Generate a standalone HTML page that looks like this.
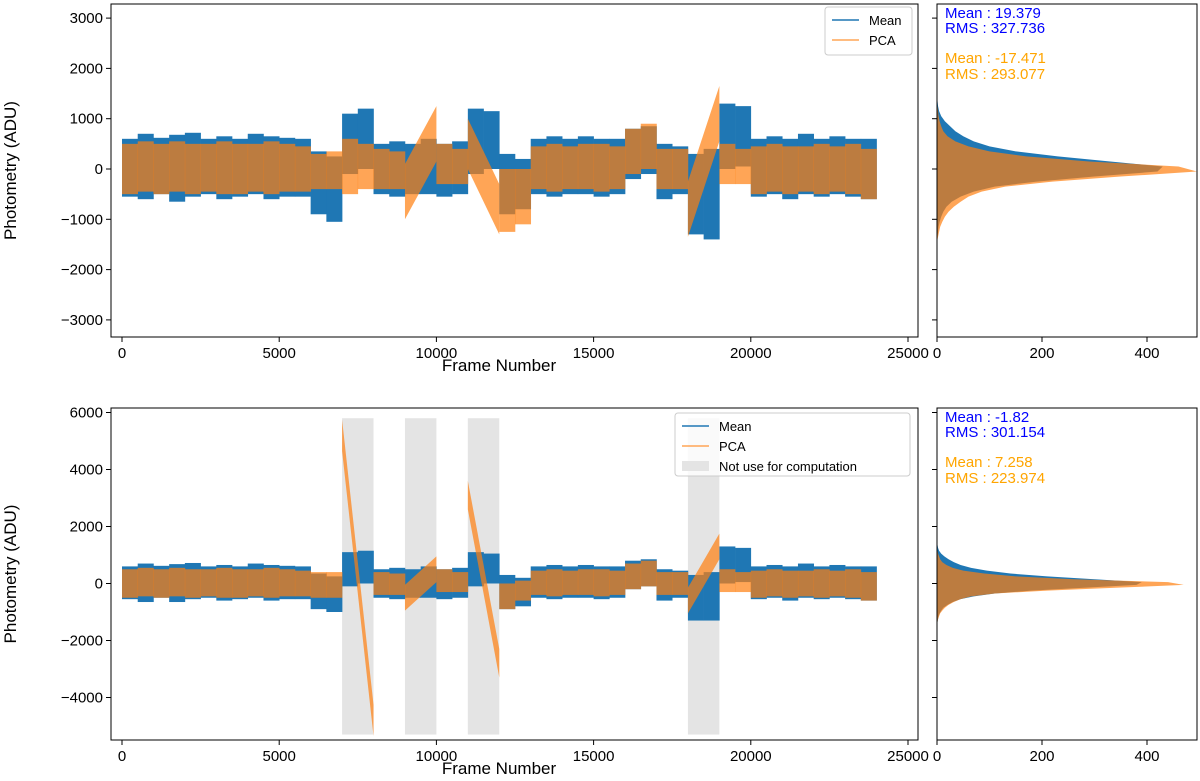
<!DOCTYPE html>
<html><head><meta charset="utf-8"><style>
body{margin:0;background:#fff;}
svg{display:block;font-family:"Liberation Sans","DejaVu Sans",sans-serif;}
</style></head><body>
<svg id="c" width="1200" height="781" viewBox="0 0 1200 781"></svg>
<script>
// ---- data (bins of 500 frames, 0..24000) ----
const frameBinStart = Array.from({length:48},(_,i)=>i*500);
const meanTopHi=[600,700,620,680,720,600,650,600,700,650,620,600,350,250,1100,1200,500,550,500,600,500,550,1200,1150,300,200,600,650,600,650,600,600,800,850,500,450,300,400,1300,1250,600,650,600,700,600,650,600,600];
const meanTopLo=[-550,-600,-500,-650,-550,-500,-600,-550,-500,-600,-550,-550,-900,-1050,-100,0,-500,-550,-500,-500,-550,-500,-100,0,-900,-800,-500,-550,-500,-500,-550,-500,-200,-100,-600,-500,-1300,-1400,0,50,-550,-500,-600,-500,-550,-500,-550,-600];
const pcaTopHi=[500,550,500,550,500,500,550,500,500,550,500,450,300,350,600,500,400,350,0,0,500,400,0,0,0,0,450,500,450,500,500,450,800,900,400,400,0,0,500,400,450,500,450,450,500,450,500,400];
const pcaTopLo=[-500,-450,-500,-450,-500,-450,-500,-500,-450,-500,-450,-450,-400,-400,-500,-400,-400,-400,0,0,-300,-300,0,0,-1250,-1100,-400,-450,-400,-400,-450,-400,-100,0,-400,-400,0,0,-300,-300,-500,-450,-500,-450,-500,-450,-500,-600];
const rampTopStart=[9000,11000,18000];
const rampTopEnd=[10000,12000,19000];
const rampTopFrom=[-450,500,-800];
const rampTopTo=[700,-800,1100];
const rampTopHalf=[550,500,550];
const meanBotHi=[600,700,620,680,720,600,650,600,700,650,620,600,350,250,1100,1150,500,550,500,600,500,550,1100,1050,300,200,600,650,600,650,600,600,800,850,500,450,300,400,1300,1250,600,650,600,700,600,650,600,600];
const meanBotLo=[-550,-650,-500,-650,-550,-500,-600,-550,-500,-600,-550,-550,-900,-1000,-100,0,-500,-550,-500,-500,-550,-500,-100,0,-900,-800,-500,-550,-500,-500,-550,-500,-200,-100,-600,-500,-1300,-1300,0,50,-550,-500,-600,-500,-550,-500,-550,-600];
const pcaBotHi=[500,550,500,550,500,500,550,500,500,550,500,450,400,400,0,0,400,350,0,0,500,400,0,0,0,100,450,500,450,500,500,450,700,800,400,400,0,0,500,400,450,500,450,450,500,450,500,400];
const pcaBotLo=[-500,-450,-500,-450,-500,-450,-500,-500,-450,-500,-450,-450,-500,-500,0,0,-400,-400,0,0,-300,-300,0,0,-900,-600,-400,-450,-400,-400,-450,-400,-200,-100,-400,-400,0,0,-300,-300,-500,-450,-500,-450,-500,-450,-500,-600];
const rampBotStart=[7000,9000,11000,18000];
const rampBotEnd=[8000,10000,12000,19000];
const rampBotFrom=[5200,-500,3100,-600];
const rampBotTo=[-4800,500,-2800,1300];
const rampBotHalf=[550,450,500,450];
const excludedStart=[7000,9000,11000,18000];
const excludedEnd=[8000,10000,12000,19000];
// histograms: bins of 100 ADU, centers -1450..1450
const histCenters=Array.from({length:30},(_,i)=>-1450+i*100);
const histMeanTop=[0,1,2,3,5,8,12,18,28,45,70,110,190,300,420,430,330,230,150,100,70,50,35,25,15,8,4,2,1,0];
const histPcaTop=[0,2,4,6,10,15,22,32,45,60,85,130,220,350,495,460,290,170,100,60,35,20,12,8,5,3,2,1,0,0];
const histMeanBot=[0,1,2,3,5,8,12,20,30,45,70,110,180,280,380,390,300,210,140,95,65,45,32,22,14,8,4,2,1,0];
const histPcaBot=[0,1,2,4,6,10,15,22,32,45,65,110,210,340,470,440,260,150,90,50,30,18,10,6,4,2,1,0,0,0];
const xTicks=[0,5000,10000,15000,20000,25000];
const yTicksTop=[-3000,-2000,-1000,0,1000,2000,3000];
const yTicksBot=[-4000,-2000,0,2000,4000,6000];
const histTicks=[0,200,400];

const NS="http://www.w3.org/2000/svg";
const svg=document.getElementById('c');
function mk(tag,attrs,parent){const e=document.createElementNS(NS,tag);for(const k in attrs)e.setAttribute(k,attrs[k]);(parent||svg).appendChild(e);return e;}
function fmt(v){return v<0?'\u2212'+(-v):String(v);}
const BLUE='#1f77b4',ORANGE='#ff7f0e';
const xMain=v=>122+v*(786/25000);
const xHist=v=>937+v*0.525;

function panel(p){
  const g=mk('g',{});
  
  
  const y=p.y;
  const clipId='clip'+p.name;
  const cp=mk('clipPath',{id:clipId},g);mk('rect',{x:111,y:p.top,width:807,height:p.bot-p.top},cp);
  const plot=mk('g',{'clip-path':'url(#'+clipId+')'},g);
  if(p.excl){for(let i=0;i<excludedStart.length;i++){
    const r=mk('rect',{x:xMain(excludedStart[i]),y:y(5800),width:xMain(excludedEnd[i])-xMain(excludedStart[i]),height:y(-5300)-y(5800),fill:'#e4e4e4'},plot);
    
    
  }}
  function band(hi,lo,color,op,nm){
    const gg=mk('g',{fill:color,'fill-opacity':op},plot);
    
    
    for(let i=0;i<hi.length;i++){
      if(hi[i]===lo[i])continue;
      const r=mk('rect',{x:xMain(frameBinStart[i]),y:y(hi[i]),width:xMain(frameBinStart[i]+500)-xMain(frameBinStart[i])+0.3,height:y(lo[i])-y(hi[i])},gg);
      
      
    }
    return gg;
  }
  band(p.mHi,p.mLo,BLUE,1,'mean-series');
  const pg=band(p.pHi,p.pLo,ORANGE,0.7,'pca-series');
  for(let i=0;i<p.rs.length;i++){
    const x0=xMain(p.rs[i]),x1=xMain(p.re[i]);
    const pts=[x0+','+y(p.rf[i]+p.rh[i]),x1+','+y(p.rt[i]+p.rh[i]),x1+','+y(p.rt[i]-p.rh[i]),x0+','+y(p.rf[i]-p.rh[i])];
    const e=mk('polygon',{points:pts.join(' ')},pg);
    
    
  }
  mk('rect',{x:111,y:p.top,width:807,height:p.bot-p.top,fill:'none',stroke:'#000','stroke-width':1},g);
  for(const t of xTicks){const X=xMain(t);mk('line',{x1:X,x2:X,y1:p.bot,y2:p.bot+5,stroke:'#000'},g);
    const tx=mk('text',{x:X,y:p.bot+21,'font-size':15,'text-anchor':'middle'},g);tx.textContent=t;
    }
  for(const t of p.yt){const Y=y(t);mk('line',{x1:106,x2:111,y1:Y,y2:Y,stroke:'#000'},g);
    const tx=mk('text',{x:103,y:Y+5,'font-size':15,'text-anchor':'end'},g);tx.textContent=fmt(t);
    
    mk('line',{x1:932,x2:937,y1:Y,y2:Y,stroke:'#000'},g);}
  const xl=mk('text',{x:499,y:p.bot+34,'font-size':17,'text-anchor':'middle'},g);xl.textContent='Frame Number';
  
  const cy=(p.top+p.bot)/2;
  const yl=mk('text',{x:16,y:cy,'font-size':17,'text-anchor':'middle',transform:'rotate(-90 16 '+cy+')'},g);yl.textContent='Photometry (ADU)';
  
  // histogram
  const hc='hclip'+p.name;const hcp=mk('clipPath',{id:hc},g);mk('rect',{x:937,y:p.top,width:260,height:p.bot-p.top},hcp);
  const hg=mk('g',{'clip-path':'url(#'+hc+')'},g);
  function hist(c,color,op,nm){
    let pts=[xHist(0)+','+y(histCenters[0]-50)];
    for(let i=0;i<c.length;i++){pts.push(xHist(c[i])+','+y(histCenters[i]));}
    pts.push(xHist(0)+','+y(histCenters[c.length-1]+50));
    const e=mk('polygon',{points:pts.join(' '),fill:color,'fill-opacity':op},hg);
    
  }
  hist(p.hm,BLUE,1,'mean-histogram');hist(p.hp,ORANGE,0.7,'pca-histogram');
  mk('rect',{x:937,y:p.top,width:260,height:p.bot-p.top,fill:'none',stroke:'#000'},g);
  for(const t of histTicks){const X=xHist(t);mk('line',{x1:X,x2:X,y1:p.bot,y2:p.bot+5,stroke:'#000'},g);
    const tx=mk('text',{x:X,y:p.bot+21,'font-size':15,'text-anchor':'middle'},g);tx.textContent=t;
    }
  const st=[[p.s[0],'blue',p.top+14],[p.s[1],'blue',p.top+29],[p.s[2],'#ffa500',p.top+59],[p.s[3],'#ffa500',p.top+75]];
  for(const s of st){const tx=mk('text',{x:945,y:s[2],'font-size':15,fill:s[1]},g);tx.textContent=s[0];
    }
  // legend
  const L=p.leg;const lg=mk('g',{},g);
  
  mk('rect',{x:L.x,y:L.y,width:L.w,height:L.h,rx:3,fill:'#fff','fill-opacity':0.8,stroke:'#ccc'},lg);
  const items=[['Mean',BLUE,'line'],['PCA','#ffa556','line']];if(p.excl)items.push(['Not use for computation','#e4e4e4','box']);
  items.forEach((it,i)=>{const yy=L.y+13+i*20;
    if(it[2]=='line')mk('line',{x1:L.x+7,x2:L.x+34,y1:yy,y2:yy,stroke:it[1],'stroke-width':1.6},lg);
    else mk('rect',{x:L.x+7,y:yy-5,width:27,height:10,fill:it[1]},lg);
    const tx=mk('text',{x:L.x+44,y:yy+5,'font-size':13},lg);tx.textContent=it[0];
    });
}
panel({name:'top-panel',top:4,bot:337,y:v=>169-v*0.0503,yt:yTicksTop,mHi:meanTopHi,mLo:meanTopLo,pHi:pcaTopHi,pLo:pcaTopLo,
  rs:rampTopStart,re:rampTopEnd,rf:rampTopFrom,rt:rampTopTo,rh:rampTopHalf,hm:histMeanTop,hp:histPcaTop,excl:false,
  s:['Mean : 19.379','RMS : 327.736','Mean : -17.471','RMS : 293.077'],leg:{x:825,y:7,w:87,h:48}});
panel({name:'bottom-panel',top:408,bot:740,y:v=>583.5-v*0.0285,yt:yTicksBot,mHi:meanBotHi,mLo:meanBotLo,pHi:pcaBotHi,pLo:pcaBotLo,
  rs:rampBotStart,re:rampBotEnd,rf:rampBotFrom,rt:rampBotTo,rh:rampBotHalf,hm:histMeanBot,hp:histPcaBot,excl:true,
  s:['Mean : -1.82','RMS : 301.154','Mean : 7.258','RMS : 223.974'],leg:{x:675,y:413,w:235,h:63}});
</script>
</body></html>
